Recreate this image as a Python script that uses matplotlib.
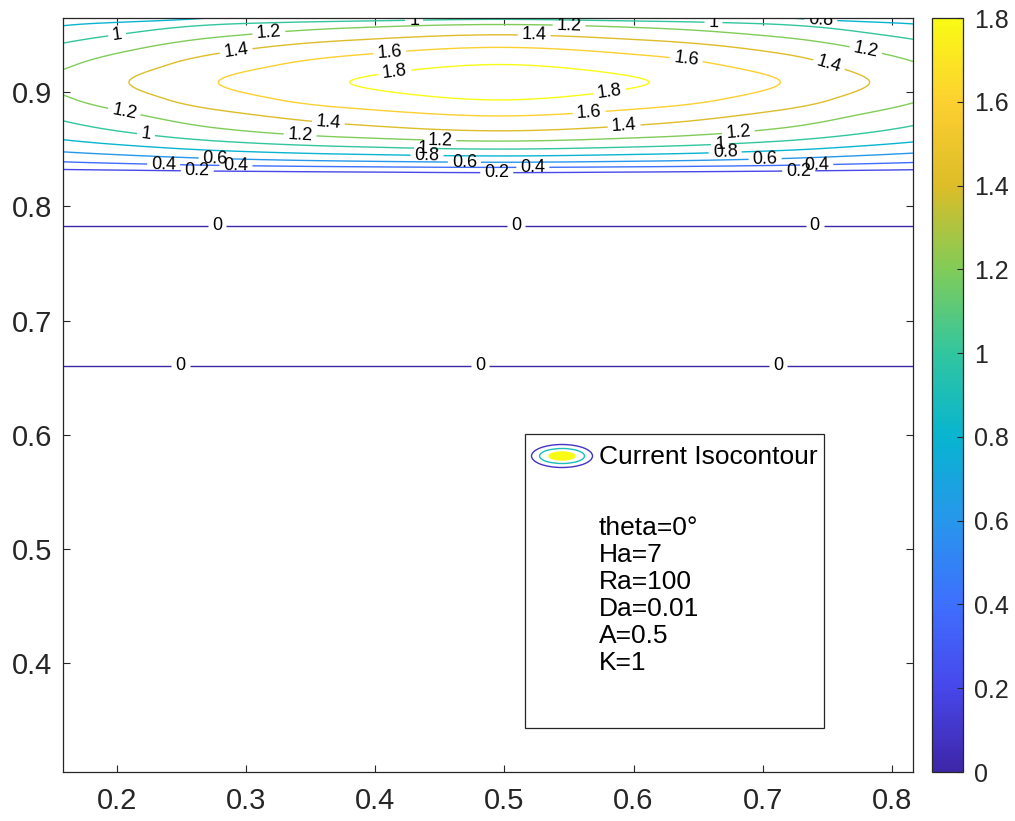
import numpy as np
import matplotlib
matplotlib.use("Agg")
import matplotlib.pyplot as plt
from matplotlib.colors import LinearSegmentedColormap, Normalize
from matplotlib.patches import Rectangle, Ellipse
from matplotlib.cm import ScalarMappable

# ---------------- data ----------------
contour_levels = [0, 0.2, 0.4, 0.6, 0.8, 1.0, 1.2, 1.4, 1.6, 1.8]
x_limits = [0.158, 0.8165]
y_limits = [0.305, 0.9647]

# vertical profile of the field along the centre column
profile_y = [0.305, 0.60, 0.6605, 0.72, 0.783, 0.81, 0.8294, 0.834, 0.8385,
             0.844, 0.850, 0.857, 0.866, 0.879, 0.893, 0.9085, 0.924, 0.939,
             0.950, 0.959, 0.9635, 0.9647]
profile_value = [0.01, 0.01, 0.0, -0.01, 0.0, 0.05, 0.2, 0.4, 0.6,
                 0.8, 1.0, 1.2, 1.4, 1.6, 1.8, 1.92, 1.8, 1.6,
                 1.4, 1.2, 1.0, 0.97]

# horizontal attenuation of the field away from the centre column
x_center = 0.496
offset_x = [0.0, 0.116, 0.218, 0.287, 0.338, 0.40]
offset_factor = [1.0, 0.9375, 0.833, 0.729, 0.65, 0.55]

x_ticks = [0.2, 0.3, 0.4, 0.5, 0.6, 0.7, 0.8]
y_ticks = [0.4, 0.5, 0.6, 0.7, 0.8, 0.9]
cbar_ticks = [0, 0.2, 0.4, 0.6, 0.8, 1.0, 1.2, 1.4, 1.6, 1.8]

legend_title = "Current Isocontour"
legend_params = ["theta=0°", "Ha=7", "Ra=100", "Da=0.01", "A=0.5", "K=1"]

# contour label placement (layout)
label_positions = [
    (0.430, 0.962), (0.200, 0.950), (0.3175, 0.952), (0.292, 0.937),
    (0.411, 0.937), (0.415, 0.918), (0.204, 0.8745), (0.364, 0.879),
    (0.342, 0.8687), (0.222, 0.860), (0.276, 0.845), (0.236, 0.8386),
    (0.292, 0.8366), (0.262, 0.828), (0.450, 0.856), (0.437, 0.8526),
    (0.440, 0.8427), (0.469, 0.8366), (0.523, 0.9476), (0.550, 0.956),
    (0.662, 0.962), (0.745, 0.962), (0.641, 0.930), (0.780, 0.937),
    (0.752, 0.926), (0.582, 0.896), (0.566, 0.876), (0.593, 0.8657),
    (0.6815, 0.861), (0.667, 0.8526), (0.671, 0.8454), (0.702, 0.8395),
    (0.742, 0.8345), (0.728, 0.8264), (0.522, 0.8335), (0.494, 0.8264),
    (0.2776, 0.7833), (0.509, 0.7833), (0.7404, 0.7833),
    (0.249, 0.6618), (0.481, 0.6618), (0.712, 0.6618),
]


def pchip(xk, yk, xq):
    """Shape-preserving piecewise cubic Hermite interpolation."""
    xk = np.asarray(xk, float)
    yk = np.asarray(yk, float)
    h = np.diff(xk)
    delta = np.diff(yk) / h
    d = np.zeros_like(yk)
    for k in range(1, len(xk) - 1):
        if delta[k - 1] * delta[k] > 0:
            w1 = 2 * h[k] + h[k - 1]
            w2 = h[k] + 2 * h[k - 1]
            d[k] = (w1 + w2) / (w1 / delta[k - 1] + w2 / delta[k])
    d[0] = delta[0]
    d[-1] = delta[-1]
    xq = np.clip(np.asarray(xq, float), xk[0], xk[-1])
    i = np.clip(np.searchsorted(xk, xq) - 1, 0, len(xk) - 2)
    t = (xq - xk[i]) / h[i]
    h00 = 2 * t**3 - 3 * t**2 + 1
    h10 = t**3 - 2 * t**2 + t
    h01 = -2 * t**3 + 3 * t**2
    h11 = t**3 - t**2
    return (h00 * yk[i] + h10 * h[i] * d[i] + h01 * yk[i + 1]
            + h11 * h[i] * d[i + 1])


# ---------------- styling ----------------
plt.rcParams['font.family'] = ['Liberation Sans', 'DejaVu Sans']
axis_color = (0.15, 0.15, 0.15)

parula_anchors = [
    (0.2422, 0.1504, 0.6603), (0.2803, 0.2782, 0.9221), (0.2440, 0.4358, 0.9988),
    (0.1540, 0.5902, 0.9218), (0.0297, 0.7082, 0.8163), (0.1938, 0.7758, 0.6251),
    (0.5044, 0.7993, 0.3480), (0.8634, 0.7406, 0.1596), (0.9892, 0.8136, 0.1885),
    (0.9769, 0.9839, 0.0805)]
parula = LinearSegmentedColormap.from_list("parula", parula_anchors, N=256)
norm = Normalize(vmin=contour_levels[0], vmax=contour_levels[-1])

W, H = 1015, 821
fig = plt.figure(figsize=(W / 100, H / 100), dpi=100)

ax_left, ax_right, ax_top, ax_bottom = 63, 913, 18, 772
ax = fig.add_axes([ax_left / W, 1 - ax_bottom / H,
                   (ax_right - ax_left) / W, (ax_bottom - ax_top) / H])

# field grid built from the two read profiles
xs = np.linspace(x_limits[0], x_limits[1], 500)
ys = np.linspace(y_limits[0], y_limits[1], 1600)
mirror_x = [-v for v in offset_x[:0:-1]] + list(offset_x)
mirror_f = list(offset_factor[:0:-1]) + list(offset_factor)
col_profile = pchip(profile_y, profile_value, ys)
row_factor = pchip(mirror_x, mirror_f, xs - x_center)
Z = np.outer(col_profile, row_factor)
X, Y = np.meshgrid(xs, ys)

cs = ax.contour(X, Y, Z, levels=contour_levels, cmap=parula, norm=norm,
                linewidths=1.0)
ax.clabel(cs, inline=True, fontsize=13, colors='k',
          fmt=lambda v: f"{v:g}", manual=label_positions, inline_spacing=4)

ax.set_xlim(x_limits)
ax.set_ylim(y_limits)
ax.set_xticks(x_ticks)
ax.set_yticks(y_ticks)
ax.set_xticklabels([f"{v:g}" for v in x_ticks])
ax.set_yticklabels([f"{v:g}" for v in y_ticks])
ax.tick_params(direction='in', length=5, width=0.8, top=True, right=True,
               labelsize=21, colors=axis_color)
ax.tick_params(axis='x', pad=11)
ax.tick_params(axis='y', pad=8)
for s in ax.spines.values():
    s.set_color(axis_color)
    s.set_linewidth(0.9)

# legend box (drawn by hand, MATLAB style)
lx0, ly0, lx1, ly1 = 525, 434, 824, 728
ax.add_patch(Rectangle((lx0 / W, 1 - ly1 / H), (lx1 - lx0) / W, (ly1 - ly0) / H,
                       transform=fig.transFigure, facecolor='white',
                       edgecolor=axis_color, linewidth=0.9, zorder=5,
                       clip_on=False))
icx, icy = 562, 456
for (ew, eh, ec, fc) in [(61, 23, parula(0.05), 'none'),
                         (45, 15, parula(0.5), 'none'),
                         (26, 8, parula(1.0), parula(1.0))]:
    ax.add_patch(Ellipse((icx / W, 1 - icy / H), ew / W, eh / H,
                         transform=fig.transFigure, facecolor=fc,
                         edgecolor=ec, linewidth=1.0, zorder=6, clip_on=False))
fig.text(599 / W, 1 - 457 / H, legend_title, fontsize=19, va='center',
         ha='left', color='k', zorder=7)
for i, t in enumerate(legend_params):
    fig.text(599 / W, 1 - (528 + 27 * i) / H, t, fontsize=19, va='center',
             ha='left', color='k', zorder=7)

# colorbar
cb_left, cb_right = 932, 963
cax = fig.add_axes([cb_left / W, 1 - ax_bottom / H,
                    (cb_right - cb_left) / W, (ax_bottom - ax_top) / H])
sm = ScalarMappable(norm=norm, cmap=parula)
cb = fig.colorbar(sm, cax=cax, ticks=cbar_ticks)
cb.ax.set_yticklabels([f"{v:g}" for v in cbar_ticks])
cb.ax.tick_params(direction='in', length=4, width=0.8, labelsize=18,
                  colors=axis_color, pad=8)
cb.outline.set_edgecolor(axis_color)
cb.outline.set_linewidth(0.9)

fig.savefig("out.png", dpi=100)
